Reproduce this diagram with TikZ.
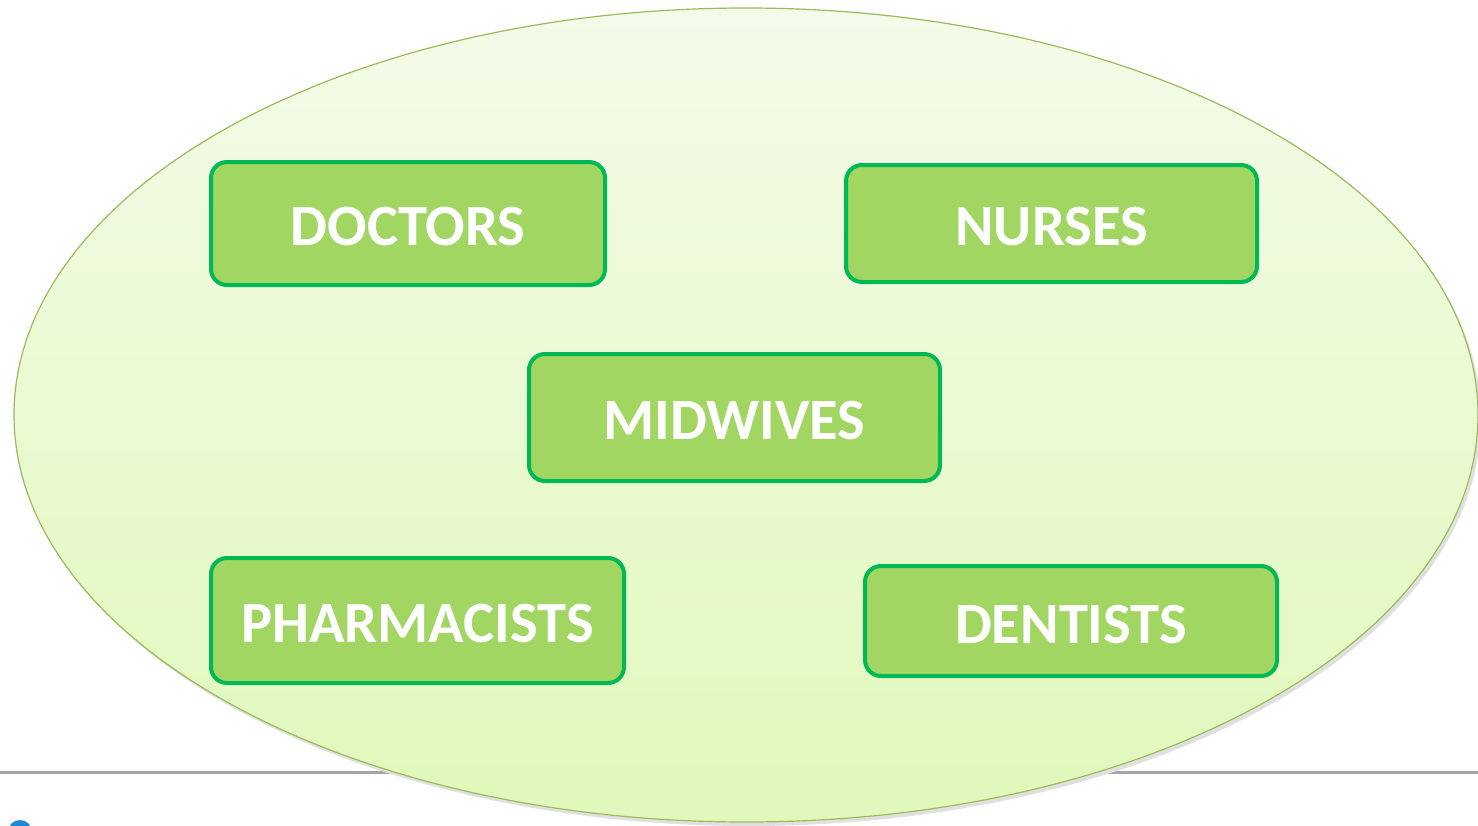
\documentclass[tikz,border=0pt]{standalone}
\usepackage{fontspec}
\setmainfont{Carlito}
\begin{document}
\begin{tikzpicture}[x=1pt,y=-1pt,
  role/.style={draw=boxborder,line width=4pt,fill=boxfill,rounded corners=16pt,
    font=\bfseries\fontsize{58.5}{58.5}\selectfont,text=white,inner sep=0pt,
    text height=44.7pt,text depth=0pt,anchor=center}]
\definecolor{boxborder}{HTML}{00B956}
\definecolor{boxfill}{HTML}{A1D663}
\definecolor{ellborder}{HTML}{9BBB59}
\definecolor{elltop}{HTML}{F4FBE9}
\definecolor{ellbot}{HTML}{E0F8BA}
\definecolor{rulegray}{HTML}{A6A6A6}
\definecolor{iconblue}{HTML}{1E88D8}
\useasboundingbox (0,0) rectangle (1478,825);
\clip (0,0) rectangle (1478,825);
\draw[rulegray,line width=3pt] (0,772) -- (1478,772);
\fill[iconblue] (20,832) circle (12);
\fill[black!12] (749,419) ellipse (732 and 407);
\shade[top color=elltop,bottom color=ellbot,draw=ellborder,line width=1.2pt]
  (746,415) ellipse (732 and 407);
\node[role,minimum width=394pt,minimum height=123pt] (doctors) at (408,223.5) {DOCTORS};
\node[role,minimum width=411pt,minimum height=117pt] (nurses) at (1051.5,223.5) {NURSES};
\node[role,minimum width=411pt,minimum height=127pt] (midwives) at (734.5,417.5) {MIDWIVES};
\node[role,minimum width=413pt,minimum height=125pt] (pharmacists) at (417.5,620.5) {PHARMACISTS};
\node[role,minimum width=412pt,minimum height=110pt] (dentists) at (1071,621) {DENTISTS};
\end{tikzpicture}
\end{document}
